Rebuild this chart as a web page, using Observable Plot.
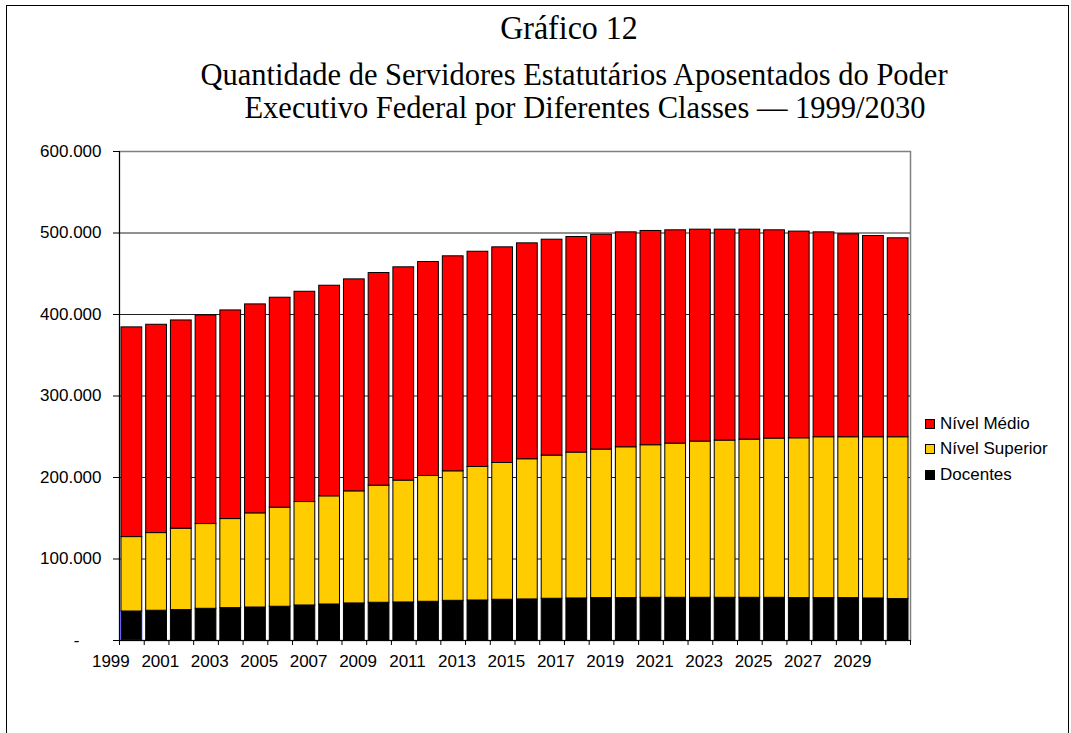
<!DOCTYPE html>
<html>
<head>
<meta charset="utf-8">
<script src="https://cdn.jsdelivr.net/npm/d3@7"></script>
<script src="https://cdn.jsdelivr.net/npm/@observablehq/plot@0.6"></script>
<style>
  html, body { margin: 0; padding: 0; background: #fff; }
  #wrap { position: relative; width: 1071px; height: 733px; overflow: hidden; background: #fff; }
  #frame { position: absolute; left: 6px; top: 5px; width: 1063px; height: 760px; border: 1px solid #000; box-sizing: border-box; }
  .t { position: absolute; white-space: nowrap; font-family: "Liberation Serif", "Times New Roman", serif; line-height: 1; color: #000; transform-origin: 50% 0; transform: translateX(-50%) scaleY(1.06); }
  #chart { position: absolute; left: 0; top: 0; }
  #legend { position: absolute; left: 925px; top: 411px; font-family: "Liberation Sans", Arial, sans-serif; font-size: 17px; color: #000; }
  .row { display: flex; align-items: center; height: 25.5px; }
  .sw { width: 10px; height: 10px; border: 1px solid #000; box-sizing: border-box; margin-right: 5px; }
</style>
</head>
<body>
<div id="wrap">
  <div id="frame"></div>
  <div id="chart"></div>
  <div class="t" id="t0" style="left:569px; top:10px; font-size:32px;">Gráfico 12</div>
  <div class="t" id="t1" style="left:574px; top:58px; font-size:30.5px;">Quantidade de Servidores Estatutários Aposentados do Poder</div>
  <div class="t" id="t2" style="left:585px; top:91px; font-size:30.5px;">Executivo Federal por Diferentes Classes — 1999/2030</div>
  <div id="legend"></div>
</div>
<script>
// Categories
const years = d3.range(1999, 2031);
const classes = ["Docentes", "Nível Superior", "Nível Médio"];
const colors = ["#000000", "#FFCC00", "#FF0000"];
const legendOrder = ["Nível Médio", "Nível Superior", "Docentes"];

// Series values (number of retired servants, per class)
const docentes = [35600, 36500, 37300, 38900, 39700, 40500, 41400, 43000, 44200, 45500, 46300, 46700,
  47500, 48700, 49100, 50000, 50400, 51200, 51600, 52000, 52000, 52400, 52400, 52400, 52400, 52400,
  52400, 52000, 52000, 52000, 51600, 50800];
const nivelSuperior = [91300, 95300, 99900, 104000, 109300, 115500, 121600, 126900, 132700, 137500, 143700, 149500,
  154400, 158900, 163800, 167800, 172000, 175700, 179000, 182300, 185100, 187200, 189200, 191700, 192900, 194100,
  195400, 196100, 197400, 197400, 197800, 198600];
const nivelMedio = [257300, 255600, 255500, 256000, 256000, 256400, 257600, 258000, 258400, 260100, 260900, 261700,
  262500, 263800, 264100, 264600, 264900, 264900, 264500, 263600, 263700, 262900, 261700, 260000, 258800, 257600,
  255500, 253600, 251400, 249000, 246900, 244100];

// Tick values
const yTicks = [100000, 200000, 300000, 400000, 500000, 600000];
const xLabelYears = years.filter(y => y % 2 === 1);

const series = [docentes, nivelSuperior, nivelMedio];
const rows = [];
years.forEach((yr, i) => {
  let acc = 0;
  classes.forEach((c, k) => {
    const v = series[k][i];
    rows.push({year: yr, cls: c, y1: acc, y2: acc + v});
    acc += v;
  });
});

const half = 0.42;
const bounds = d3.range(1998.5, 2031, 1);
const fmt = d => d3.format(",")(d).replace(/,/g, ".");

const chart = Plot.plot({
  width: 1071,
  height: 733,
  marginLeft: 119,
  marginRight: 161,
  marginTop: 151,
  marginBottom: 93,
  style: {fontFamily: "'Liberation Sans', Arial, sans-serif", fontSize: "17px", color: "#000", background: "transparent"},
  x: {domain: [1998.5, 2030.5], axis: null},
  y: {domain: [0, 600000], axis: null},
  color: {domain: classes, range: colors},
  marks: [
    Plot.frame({stroke: "#808080", strokeWidth: 1.5}),
    Plot.ruleY(yTicks.filter(t => t < 600000), {stroke: "#222", strokeWidth: 1}),
    Plot.rect(rows, {
      x1: d => d.year - half,
      x2: d => d.year + half,
      y1: "y1",
      y2: "y2",
      fill: "cls",
      stroke: d => (d.year === 1999 && d.cls === "Docentes") ? "#0000ff" : "#000",
      strokeWidth: 1
    }),
    Plot.ruleX([1998.5], {stroke: "#000", strokeWidth: 1}),
    Plot.ruleY([0], {stroke: "#000", strokeWidth: 1}),
    Plot.axisX({ticks: bounds, tickSize: 5, tickFormat: () => "", stroke: "#000"}),
    Plot.axisX({ticks: xLabelYears, tickSize: 0, tickPadding: 14, dx: -21, tickFormat: d => String(d), fontSize: 17}),
    Plot.axisY({ticks: yTicks, tickSize: 6, tickPadding: 12, tickFormat: fmt, fontSize: 17}),
    Plot.axisY({ticks: [0], tickSize: 6, tickPadding: 34, tickFormat: () => "-", fontSize: 17})
  ]
});
document.getElementById("chart").appendChild(chart);

// Legend
const leg = document.getElementById("legend");
legendOrder.forEach(name => {
  const row = document.createElement("div");
  row.className = "row";
  const sw = document.createElement("div");
  sw.className = "sw";
  sw.style.background = colors[classes.indexOf(name)];
  const lab = document.createElement("span");
  lab.textContent = name;
  row.appendChild(sw);
  row.appendChild(lab);
  leg.appendChild(row);
});
</script>
</body>
</html>
